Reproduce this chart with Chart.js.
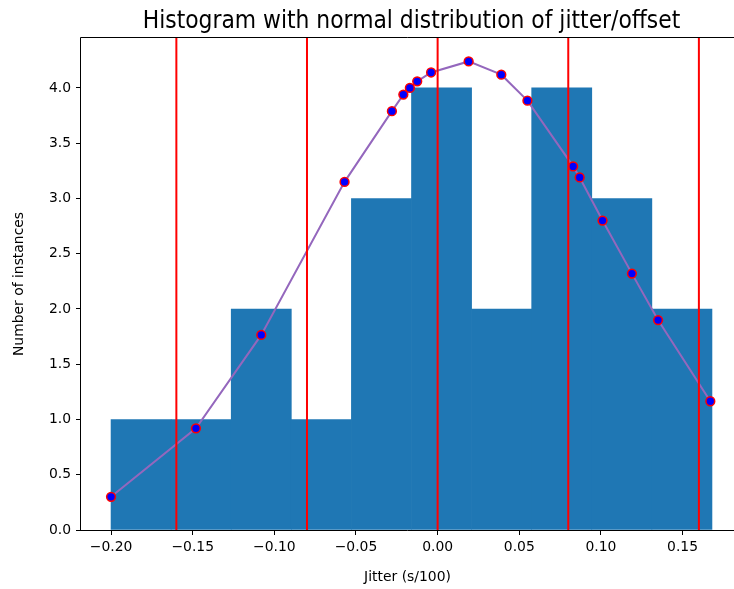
<!DOCTYPE html>
<html lang="en">
<head>
    <meta charset="UTF-8">
    <title>Histogram with normal distribution of jitter/offset</title>
    <script src="https://cdn.jsdelivr.net/npm/chart.js"></script>
    <style>
        html, body { margin: 0; padding: 0; overflow: hidden; background: #fff; }
    </style>
</head>
<body>
    <canvas id="myChart" width="734" height="589"></canvas>

    <script>
        // histogram bins (edges) and counts
        const binEdges = [-0.2, -0.1632, -0.1264, -0.0896, -0.0528, -0.016, 0.0208, 0.0576, 0.0944, 0.1312, 0.168];
        const binCounts = [1, 1, 2, 1, 3, 4, 2, 4, 3, 2];

        // jitter samples and fitted normal curve value at each one
        const jitter = [-0.200, -0.148, -0.108, -0.057, -0.028, -0.021, -0.017, -0.0125, -0.004,
                        0.019, 0.039, 0.055, 0.083, 0.087, 0.101, 0.119, 0.135, 0.167];
        const normalFit = [0.30, 0.92, 1.765, 3.15, 3.79, 3.94, 4.00, 4.06, 4.14,
                           4.24, 4.12, 3.885, 3.29, 3.19, 2.80, 2.32, 1.90, 1.165];

        // mean and +-1, +-2 sigma markers
        const sigmaLines = [-0.16, -0.08, 0.0, 0.08, 0.16];

        const xTicks = [-0.20, -0.15, -0.10, -0.05, 0.00, 0.05, 0.10, 0.15];
        const yTicks = [0, 0.5, 1, 1.5, 2, 2.5, 3, 3.5, 4];
        // the axis runs to 0.1864; only the part up to the canvas edge is shown
        const xMin = -0.2184, xAxisEnd = 0.1864, xMax = 0.1815;
        const yMax = 4.452;

        const chartTitle = 'Histogram with normal distribution of jitter/offset';

        const minus = s => s.replace('-', '\u2212');

        const bars = binCounts.map((c, i) => ({ x: (binEdges[i] + binEdges[i + 1]) / 2, y: c }));
        const curve = jitter.map((x, i) => ({ x: x, y: normalFit[i] }));

        const vlines = sigmaLines.map(v => ({
            type: 'line',
            data: [{ x: v, y: 0 }, { x: v, y: yMax }],
            borderColor: '#ff0000',
            borderWidth: 2,
            pointRadius: 0,
            order: 0
        }));

        // left/top/bottom spines and a title centred over the full axis
        const frame = {
            id: 'frame',
            afterDatasetsDraw(chart) {
                const { ctx, chartArea: a } = chart;
                const l = Math.round(a.left) - 0.5, t = Math.round(a.top) - 0.5, b = Math.round(a.bottom) + 0.5;
                ctx.save();
                ctx.strokeStyle = '#000';
                ctx.lineWidth = 1;
                ctx.beginPath();
                ctx.moveTo(chart.width, t);
                ctx.lineTo(l, t);
                ctx.lineTo(l, b);
                ctx.lineTo(chart.width, b);
                ctx.stroke();
                const axisRight = chart.scales.x.getPixelForValue(xAxisEnd);
                ctx.fillStyle = '#000';
                ctx.font = '24.3px "DejaVu Sans Condensed", "DejaVu Sans"';
                ctx.textAlign = 'center';
                ctx.textBaseline = 'alphabetic';
                ctx.fillText(chartTitle, (a.left + axisRight) / 2, a.top - 10);
                ctx.restore();
            }
        };

        const tickFont = { family: 'DejaVu Sans', size: 13.9 };

        const ctx = document.getElementById('myChart').getContext('2d');
        const myChart = new Chart(ctx, {
            type: 'line',
            data: {
                datasets: [
                    ...vlines,
                    {
                        type: 'line',
                        data: curve,
                        borderColor: '#9467bd',
                        borderWidth: 2,
                        tension: 0,
                        pointRadius: 4.4,
                        pointBorderWidth: 1.5,
                        pointBackgroundColor: '#0000ff',
                        pointBorderColor: '#ff0000',
                        order: 1
                    },
                    {
                        type: 'bar',
                        data: bars,
                        backgroundColor: '#1f77b4',
                        borderWidth: 0,
                        barPercentage: 1,
                        categoryPercentage: 1,
                        order: 2
                    }
                ]
            },
            options: {
                responsive: false,
                animation: false,
                devicePixelRatio: 1,
                layout: { autoPadding: false, padding: { left: 0, right: 0, top: 38, bottom: 0 } },
                plugins: {
                    legend: { display: false },
                    tooltip: { enabled: false },
                    title: { display: false }
                },
                scales: {
                    x: {
                        type: 'linear',
                        min: xMin,
                        max: xMax,
                        offset: false,
                        afterBuildTicks: s => { s.ticks = xTicks.map(v => ({ value: v })); },
                        afterFit: s => { s.height = 59; s.paddingLeft = 0; s.paddingRight = 0; },
                        grid: { drawOnChartArea: false, offset: false, color: '#000', tickLength: 5 },
                        border: { display: false },
                        ticks: {
                            color: '#000',
                            font: tickFont,
                            padding: 4,
                            maxRotation: 0,
                            callback: v => minus(v.toFixed(2))
                        },
                        title: {
                            display: true,
                            text: 'Jitter (s/100)',
                            color: '#000',
                            font: { family: 'DejaVu Sans', size: 13.9 },
                            padding: { top: 0, bottom: 3.6 }
                        }
                    },
                    y: {
                        min: 0,
                        max: yMax,
                        afterBuildTicks: s => { s.ticks = yTicks.map(v => ({ value: v })); },
                        afterFit: s => { s.width = 81; s.paddingTop = 0; s.paddingBottom = 0; },
                        grid: { drawOnChartArea: false, color: '#000', tickLength: 5 },
                        border: { display: false },
                        ticks: {
                            color: '#000',
                            font: tickFont,
                            padding: 5,
                            callback: v => v.toFixed(1)
                        },
                        title: {
                            display: true,
                            text: 'Number of instances',
                            color: '#000',
                            font: { family: 'DejaVu Sans', size: 13.9 },
                            padding: { top: 11.2, bottom: 0 }
                        }
                    }
                }
            },
            plugins: [frame]
        });
    </script>
</body>
</html>
